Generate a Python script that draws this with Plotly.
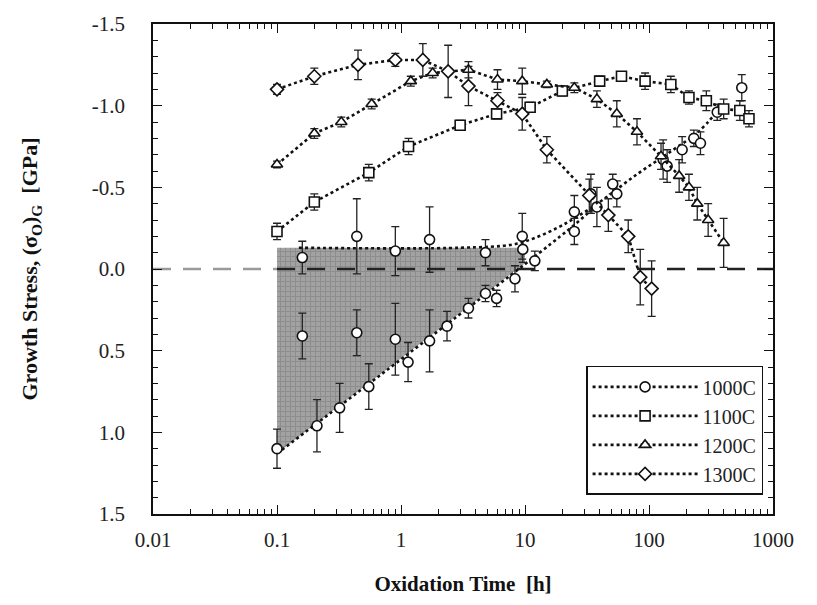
import plotly.graph_objects as go

# ---------------- data ----------------
t_1000 = [0.1, 0.16, 0.16, 0.21, 0.32, 0.44, 0.44, 0.55, 0.9, 0.9, 1.14, 1.7, 1.7, 2.35, 3.5,
          4.8, 4.8, 5.9, 8.3, 9.5, 9.6, 12, 25, 25, 34, 38, 51, 55, 130, 140, 185, 230, 260, 355, 560]
s_1000 = [1.10, -0.07, 0.41, 0.96, 0.85, -0.20, 0.39, 0.72, -0.11, 0.43, 0.57, -0.18, 0.44, 0.35, 0.24,
          0.15, -0.10, 0.18, 0.06, -0.20, -0.12, -0.05, -0.35, -0.23, -0.46, -0.38, -0.52, -0.46,
          -0.67, -0.63, -0.73, -0.80, -0.77, -0.96, -1.11]
e_1000 = [0.12, 0.10, 0.14, 0.16, 0.15, 0.23, 0.14, 0.14, 0.15, 0.22, 0.12, 0.20, 0.19, 0.09, 0.06,
          0.05, 0.08, 0.05, 0.08, 0.14, 0.08, 0.06, 0.10, 0.08, 0.12, 0.12, 0.06, 0.08,
          0.12, 0.10, 0.08, 0.05, 0.07, 0.05, 0.08]

t_1100 = [0.1, 0.2, 0.55, 1.15, 3, 5.9, 11, 20, 40, 60, 93, 150, 210, 290, 400, 540, 640]
s_1100 = [-0.23, -0.41, -0.59, -0.75, -0.88, -0.95, -0.99, -1.09, -1.15, -1.18, -1.15, -1.13,
          -1.05, -1.03, -0.98, -0.97, -0.92]
e_1100 = [0.05, 0.05, 0.05, 0.05, 0.03, 0.03, 0.03, 0.03, 0.03, 0.02, 0.05, 0.05, 0.04, 0.06,
          0.06, 0.06, 0.05]

t_1200 = [0.1, 0.2, 0.33, 0.58, 1.2, 1.8, 3.5, 6, 9.5, 15, 25, 38, 55, 80, 125, 175, 210, 245, 300, 400]
s_1200 = [-0.64, -0.83, -0.90, -1.01, -1.15, -1.20, -1.22, -1.16, -1.15, -1.13, -1.11, -1.04,
          -0.95, -0.84, -0.69, -0.57, -0.50, -0.40, -0.30, -0.16]
e_1200 = [0.02, 0.03, 0.03, 0.03, 0.03, 0.03, 0.05, 0.06, 0.08, 0.02, 0.03, 0.05, 0.08, 0.08,
          0.08, 0.10, 0.08, 0.10, 0.10, 0.15]

t_1300 = [0.1, 0.2, 0.45, 0.9, 1.5, 2.4, 3.5, 6, 9.5, 15, 33, 47, 68, 85, 105]
s_1300 = [-1.10, -1.18, -1.25, -1.28, -1.28, -1.21, -1.12, -1.03, -0.95, -0.73, -0.45, -0.33,
          -0.20, 0.05, 0.12]
e_1300 = [0.03, 0.05, 0.09, 0.04, 0.10, 0.16, 0.12, 0.05, 0.10, 0.08, 0.10, 0.10, 0.10, 0.17, 0.17]

# 1000C trend (bound) lines
upper_t = [0.15, 3, 8, 12, 18, 25, 40, 80, 150, 250, 350]
upper_s = [-0.13, -0.13, -0.15, -0.19, -0.25, -0.31, -0.41, -0.58, -0.72, -0.84, -0.96]
lower_t = [0.1, 25, 40]
lower_s = [1.13, -0.27, -0.41]

# shaded scatter band of 1000C
shade_t = [0.1, 10, 10, 0.1]
shade_s = [-0.13, -0.13, -0.035, 1.13]

# zero reference line
zero_left_t = [0.01, 0.1]
zero_right_t = [0.1, 1000]
zero_s = [0, 0]

series_names = ["1000C", "1100C", "1200C", "1300C"]
x_ticks = [0.01, 0.1, 1, 10, 100, 1000]
x_ticktext = ["0.01", "0.1", "1", "10", "100", "1000"]
x_minor = [m * d for d in [0.01, 0.1, 1, 10, 100] for m in range(2, 10)]
y_ticks = [-1.5, -1.0, -0.5, 0.0, 0.5, 1.0, 1.5]
y_ticktext = ["-1.5", "-1.0", "-0.5", "0.0", "0.5", "1.0", "1.5"]

# ---------------- figure ----------------
FONT = "Liberation Serif"
INK = "#111111"
fig = go.Figure()

fig.add_trace(go.Scatter(x=shade_t, y=shade_s, mode="lines", fill="toself",
                         fillcolor="rgba(140,140,140,0.8)",
                         fillpattern=dict(shape="+", bgcolor="#a2a2a2", fgcolor="#787878",
                                          size=5, solidity=0.35),
                         line=dict(width=0), hoverinfo="skip", showlegend=False))

fig.add_trace(go.Scatter(x=zero_left_t, y=zero_s, mode="lines",
                         line=dict(color="#9a9a9a", width=2.5, dash="18px,12px"),
                         showlegend=False, hoverinfo="skip"))
fig.add_trace(go.Scatter(x=zero_right_t, y=zero_s, mode="lines",
                         line=dict(color="#222222", width=2.5, dash="18px,12px"),
                         showlegend=False, hoverinfo="skip"))

for tt, ss in [(upper_t, upper_s), (lower_t, lower_s)]:
    fig.add_trace(go.Scatter(x=tt, y=ss, mode="lines",
                             line=dict(color=INK, width=2.6, dash="dot", shape="spline"),
                             showlegend=False, hoverinfo="skip"))

err_style = dict(type="data", symmetric=True, color="#222222", thickness=1.3, width=4)
mk = dict(color="white", size=10, line=dict(color=INK, width=1.6))

# 1000C data (markers only) + legend entry
fig.add_trace(go.Scatter(x=t_1000, y=s_1000, mode="markers", name=series_names[0],
                         marker=dict(symbol="circle", **mk), showlegend=False,
                         error_y=dict(array=e_1000, **err_style)))
fig.add_trace(go.Scatter(x=[None], y=[None], mode="lines+markers", name=series_names[0],
                         marker=dict(symbol="circle", **mk),
                         line=dict(color=INK, width=2.6, dash="dot")))

for name, tt, ss, ee, sym in [(series_names[1], t_1100, s_1100, e_1100, "square"),
                              (series_names[2], t_1200, s_1200, e_1200, "triangle-up"),
                              (series_names[3], t_1300, s_1300, e_1300, "diamond")]:
    fig.add_trace(go.Scatter(x=tt, y=ss, mode="lines+markers", name=name,
                             marker=dict(symbol=sym, **mk),
                             line=dict(color=INK, width=2.6, dash="dot"),
                             error_y=dict(array=ee, **err_style)))

axis_common = dict(showline=True, linecolor=INK, linewidth=1.6, mirror="ticks",
                   ticks="inside", tickcolor=INK, tickwidth=1.4, showgrid=False,
                   zeroline=False, tickfont=dict(family=FONT, size=21, color="#222"))

fig.update_xaxes(type="log", range=[-2, 3], tickvals=x_ticks, ticktext=x_ticktext,
                 ticklen=9, ticklabelstandoff=6,
                 minor=dict(ticks="inside", ticklen=5, tickcolor=INK, tickwidth=1.2,
                            tickvals=x_minor, showgrid=False),
                 title=dict(text="<b>Oxidation Time  [h]</b>",
                            font=dict(family=FONT, size=21, color="#111"), standoff=25),
                 **axis_common)
fig.update_yaxes(range=[1.5, -1.5], tickvals=y_ticks, ticktext=y_ticktext,
                 ticklen=9, ticklabelstandoff=22,
                 minor=dict(ticks="inside", ticklen=5, tickcolor=INK, tickwidth=1.2,
                            dtick=0.1, showgrid=False),
                 title=dict(text="<b>Growth Stress, (σ<sub>O</sub>)<sub>G</sub>  [GPa]</b>",
                            font=dict(family=FONT, size=22, color="#111"), standoff=48),
                 **axis_common)

fig.update_layout(
    width=817, height=605,
    margin=dict(l=153, r=44, t=22, b=91),
    paper_bgcolor="white", plot_bgcolor="white",
    legend=dict(x=0.984, y=0.039, xanchor="right", yanchor="bottom",
                bgcolor="white", bordercolor=INK, borderwidth=1.5,
                font=dict(family=FONT, size=20, color="#222"),
                itemwidth=105, tracegroupgap=6),
    showlegend=True,
)

fig.write_html("out.html")
